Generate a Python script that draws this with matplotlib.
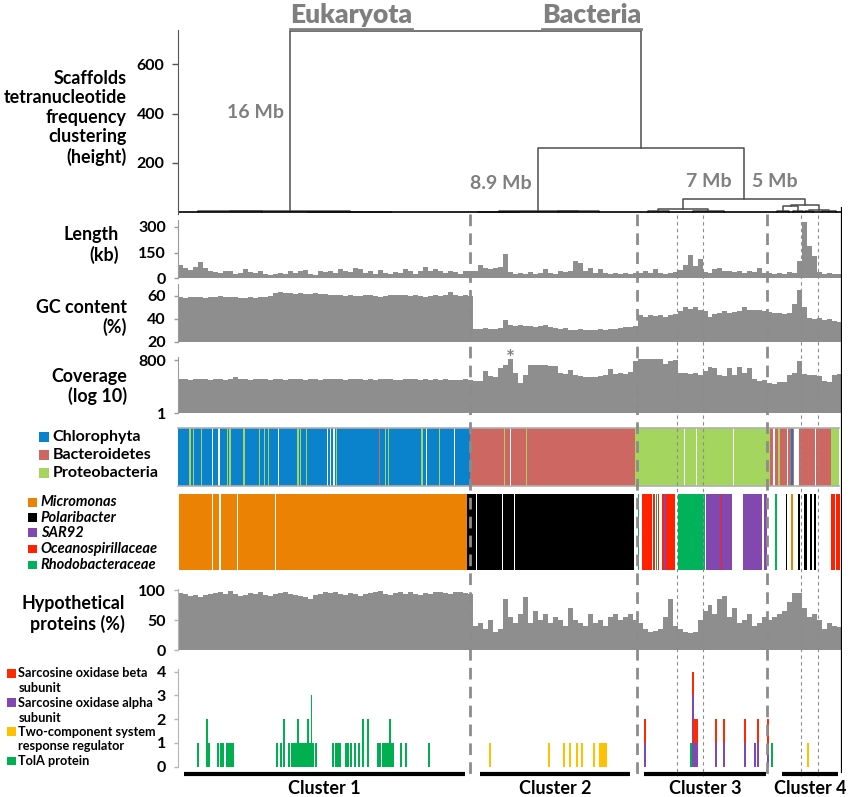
import numpy as np
import matplotlib.pyplot as plt
from matplotlib.patches import Rectangle
import matplotlib.transforms as mtransforms

plt.rcParams['font.family'] = ['Lato', 'DejaVu Sans']
plt.rcParams['font.weight'] = 'bold'

W, H = 851, 797
BIN = 5          # scaffold positions per bin
N_POS = 665      # length of the scaffold axis

# per-bin values: cluster 1 | cluster 2 | cluster 3 | cluster 4
length_kb = ([75, 60, 50, 65, 95, 60, 40, 35, 30, 45, 40, 25, 30, 55, 35, 30, 40, 25, 20, 25,
              30, 25, 45, 30, 40, 50, 25, 20, 45, 35, 40, 30, 55, 45, 35, 60, 55, 30, 45, 25,
              50, 30, 25, 35, 30, 55, 40, 25, 45, 65, 40, 55, 45, 30, 40, 35, 25, 45, 40]
             + [40, 75, 60, 55, 60, 65, 140, 35, 25, 30, 25, 35, 25, 30, 55, 30, 25, 40, 35, 45,
                100, 90, 45, 60, 30, 55, 30, 25, 30, 25, 30, 25, 30]
             + [30, 40, 30, 55, 30, 25, 30, 35, 50, 75, 135, 70, 110, 35, 30, 55, 60, 40, 45, 35,
                45, 30, 40, 35, 60, 30]
             + [30, 25, 30, 25, 35, 30, 100, 330, 190, 130, 35, 25, 30, 25, 25])

gc_pct = ([59, 58.5, 59, 59.5, 59, 58.5, 59.5, 59, 60, 59, 59.5, 59, 58, 58.5, 59, 58.5, 59, 59.5, 60,
           63, 63.5, 62.5, 63, 62, 62.5, 61.5, 62, 62.5, 61.5, 62,
           61, 60.5, 61, 60, 60.5, 60, 60, 60.5, 61, 60, 59.5, 60, 60.5, 61, 60.5, 61, 60, 60.5, 60,
           59.5, 60, 60.5, 60, 61, 63.5, 60.5, 60, 60.5, 60]
          + [31.5, 31, 32, 31, 31.5, 32, 39, 35, 34, 34.5, 33.5, 34, 33, 34, 34.5, 33, 32, 31.5, 32,
             30.5, 30, 31.5, 30.5, 30, 30, 31, 30.5, 31.5, 31, 32, 32.5, 33, 34]
          + [43, 42, 43, 42.5, 43, 42, 43.5, 44, 47, 50, 49, 50, 48, 47, 42, 44, 45.5, 47, 45.5, 46,
             46.5, 50, 48, 47.5, 48, 46.5]
          + [46, 45.5, 45, 44, 45, 53, 65, 50, 41, 40, 40.5, 39, 39.5, 38, 37])

coverage = ([75, 70, 68, 70, 72, 70, 69, 71, 70, 68, 72, 95, 74, 70, 69, 70, 71, 70, 68, 70,
             70, 69, 71, 70, 70, 68, 70, 71, 69, 70, 70, 72, 70, 69, 70, 71, 70, 68, 70, 69,
             70, 71, 70, 69, 68, 70, 71, 70, 69, 70, 68, 70, 69, 70, 68, 67, 69, 70, 66]
            + [55, 60, 200, 110, 90, 280, 430, 900, 150, 45, 120, 420, 440, 410, 450, 400, 380, 160,
               140, 220, 130, 110, 90, 100, 95, 105, 120, 260, 140, 150, 140, 180, 700]
            + [900, 950, 920, 900, 910, 500, 700, 800, 160, 150, 140, 150, 130, 200, 350, 300, 120,
               110, 300, 130, 350, 150, 300, 70, 60, 65]
            + [45, 42, 50, 48, 130, 150, 750, 140, 120, 130, 110, 55, 50, 130, 135])

hypo_pct = ([95, 93, 90, 92, 89, 91, 93, 95, 96, 94, 98, 93, 90, 92, 95, 94, 96, 92, 90, 93,
             95, 96, 94, 91, 90, 88, 85, 92, 94, 96, 95, 97, 93, 92, 95, 94, 90, 93, 95, 96,
             98, 94, 92, 95, 97, 93, 96, 94, 91, 95, 93, 96, 97, 95, 94, 96, 97, 95, 93]
            + [40, 45, 35, 50, 30, 35, 85, 55, 45, 60, 88, 45, 65, 50, 60, 45, 55, 50, 40, 70,
               50, 45, 40, 60, 45, 50, 40, 55, 60, 50, 55, 60, 50]
            + [45, 35, 30, 32, 35, 55, 85, 40, 35, 30, 28, 30, 50, 65, 75, 60, 85, 90, 55, 70,
               45, 50, 60, 40, 45, 55]
            + [50, 55, 60, 65, 80, 95, 95, 70, 55, 60, 50, 35, 45, 40, 38])

# gene hits (scaffold position, count)
tola_pos = [19.4, 29.0, 30.7, 40.0, 42.7, 45.0, 48.4, 50.4, 52.4, 54.4,
            98.4, 102.4, 105.4, 111.0, 113.4,
            115.7, 117.2, 118.7, 120.2, 121.7, 123.2, 124.7, 126.2, 127.7, 129.4, 130.7, 132.2, 133.4, 135.0,
            138.4,
            155.0, 157.7, 160.0, 161.7, 167.7, 170.0, 173.4, 176.7, 181.0, 185.0, 190.0, 200.0, 202.4,
            205.0, 206.5, 208.0, 209.5, 211.0, 212.4, 214.0, 215.0,
            222.7, 227.7, 251.0, 513.8, 594.4]
tola_n = ([1, 2, 1, 1, 1, 1, 1, 1, 1, 1] + [1, 1, 2, 1, 1]
          + [1, 1, 1, 2, 1, 1, 1, 1, 1, 2, 1, 1, 3, 1] + [1]
          + [1, 1, 1, 1, 1, 1, 1, 1, 1, 2, 2, 1, 1] + [1, 1, 1, 1, 1, 2, 1, 1] + [1, 1, 1, 1, 1])
tcs_pos = [311.7, 371.0, 386.7, 392.7, 399.4, 404.0, 416.0, 422.7, 424.2, 425.7, 427.2, 428.7, 630.7]
tcs_n = [1] * len(tcs_pos)
sox_pos = [467.0, 515.0, 516.5, 518.0, 519.5, 538.4, 546.7, 567.4, 577.4, 580.7, 591.0]
sox_alpha = [1, 3, 1, 1, 1, 1, 1, 1, 1, 1, 1]
sox_beta = [1, 1, 1, 1, 1, 1, 1, 1, 0, 1, 1]

# taxonomy strips: blocks (start, end, taxon) and thin stripes (position, taxon, width)
phylum_colors = {'Chlorophyta': '#0a82cc', 'Bacteroidetes': '#cc6762',
                 'Proteobacteria': '#a3d55f', 'gap': 'white'}
phylum_blocks = [(0, 291.7, 'Chlorophyta'), (291.7, 457.7, 'Bacteroidetes'),
                 (457.7, 592.4, 'Proteobacteria'), (592.4, 653.4, 'Bacteroidetes'),
                 (616.7, 621.7, 'gap'), (653.4, 661.7, 'Proteobacteria')]
P = 'Proteobacteria'
phylum_lines = [(11.7, P, 1.3), (15.0, P, 1.3), (23.4, P, 1.3), (34.0, 'gap', 1.3), (40.7, 'gap', 1.3),
                (49.4, P, 1.3), (51.7, P, 1.3), (66.0, P, 2.2), (81.0, P, 1.3), (86.0, P, 1.3),
                (90.4, P, 1.3), (100.4, 'gap', 1.3), (120.0, P, 1.3), (122.7, P, 1.3), (128.4, P, 1.3),
                (149.4, 'gap', 1.3), (152.7, 'gap', 1.3), (156.0, 'gap', 1.3), (158.4, P, 1.3),
                (201.7, 'Bacteroidetes', 1.5), (207.4, P, 1.3), (210.7, P, 1.3), (244.0, P, 1.3),
                (248.4, 'gap', 1.3), (261.7, P, 1.3), (276.7, 'gap', 1.3),
                (326.7, P, 1.3), (332.4, 'gap', 1.3), (348.4, P, 1.3),
                (506.7, 'gap', 1.3), (519.0, 'gap', 1.3), (555.7, 'gap', 1.3),
                (596.7, 'gap', 1.5), (601.7, P, 1.5), (610.0, 'gap', 1.5), (615.0, 'Chlorophyta', 1.8),
                (638.4, 'gap', 1.3)]

genus_names = ['Micromonas', 'Polaribacter', 'SAR92', 'Oceanospirillaceae', 'Rhodobacteraceae']
genus_colors = {'Micromonas': '#ec8204', 'Polaribacter': '#000000', 'SAR92': '#8348b0',
                'Oceanospirillaceae': '#ff2200', 'Rhodobacteraceae': '#00b35a', 'gap': 'white'}
genus_blocks = [(1.0, 289.0, 'Micromonas'), (289.0, 456.7, 'Polaribacter'),
                (460.5, 461.8, 'Rhodobacteraceae'), (464.0, 474.0, 'Oceanospirillaceae'),
                (475.3, 477.0, 'Oceanospirillaceae'), (478.0, 479.2, 'Rhodobacteraceae'),
                (480.2, 481.6, 'Oceanospirillaceae'), (484.5, 497.7, 'Oceanospirillaceae'),
                (500.0, 527.7, 'Rhodobacteraceae'), (528.4, 555.0, 'SAR92'),
                (565.7, 590.0, 'SAR92'), (654.0, 662.4, 'Oceanospirillaceae')]
genus_lines = [(34.0, 'gap', 1.3), (41.7, 'gap', 1.3), (59.4, 'gap', 1.3), (97.4, 'gap', 1.3),
               (299.0, 'gap', 1.3), (324.4, 'gap', 1.3), (336.7, 'gap', 1.3),
               (487.4, 'SAR92', 1.3), (544.0, 'Oceanospirillaceae', 1.3), (585.5, 'gap', 1.3),
               (598.4, 'Rhodobacteraceae', 1.6), (609.0, 'Polaribacter', 1.6),
               (614.4, 'Micromonas', 1.6), (621.7, 'Polaribacter', 1.8), (627.7, 'Polaribacter', 1.8),
               (629.4, 'Polaribacter', 1.4), (633.4, 'Polaribacter', 1.8), (637.7, 'Polaribacter', 1.8),
               (658.4, 'gap', 1.0)]

# clusters
cluster_edges = [291.7, 459.4, 590.0]
subcluster_edges = [499.4, 525.7, 624.0, 640.7]
cluster_names = ['Cluster 1', 'Cluster 2', 'Cluster 3', 'Cluster 4']
cluster_spans = [(5.7, 286.7), (301.7, 452.4), (466.7, 588.4), (604.4, 661.0)]

# tetranucleotide clustering tree: (height, left, right); leaves are positions
tree = (735,
        (6, (3, 20, 83.4), (2, 130, 213.4)),
        (260,
         (6, (2, 300, 341.4), (3, 380, 421.4)),
         (55,
          (14, (5, 470, 491.4), (6, 515, 546.4)),
          (30, (25, (5, 600, 612), (5, 616, 625.4)),
               (10, (6, 628, 636), (4, 645, 659))))))

GRAY = '#8e8e8e'
TXT_GRAY = '#7f7f7f'
X0, X1 = 178.3, 842.3

fig = plt.figure(figsize=(W / 100, H / 100), dpi=100)


def add_px_axes(x0, y0, x1, y1):
    return fig.add_axes([x0 / W, 1 - y1 / H, (x1 - x0) / W, (y1 - y0) / H])


def style_panel(ax, spine_color='#9a9a9a'):
    for s in ('top', 'right', 'bottom'):
        ax.spines[s].set_visible(False)
    ax.spines['left'].set_color(spine_color)
    ax.tick_params(axis='y', length=3, width=1, color=spine_color, pad=6, labelsize=11.5)
    ax.set_xticks([])
    ax.set_xlim(0, N_POS)
    ax.patch.set_alpha(0)


edges = np.arange(len(length_kb)) * BIN

# dendrogram
ax_d = add_px_axes(X0, 30, X1, 214)
style_panel(ax_d, '#555555')
ax_d.tick_params(axis='y', length=4)
ax_d.set_ylim(-8, 740)
ax_d.set_yticks([200, 400, 600])


def draw_node(ax, node):
    if not isinstance(node, tuple):
        return node, 0.0
    h, left, right = node
    xl, hl = draw_node(ax, left)
    xr, hr = draw_node(ax, right)
    ax.plot([xl, xl, xr, xr], [hl, h, h, hr], color='#4d4d4d', lw=1.1)
    return (xl + xr) / 2, h


draw_node(ax_d, tree)
ax_d.plot([1, N_POS - 1], [0, 0], color='black', lw=1.2)
ax_d.text(105.7, 403, '16 Mb', color=TXT_GRAY, fontsize=14, ha='right', va='center')
ax_d.text(323.2, 118, '8.9 Mb', color=TXT_GRAY, fontsize=14, ha='center', va='center')
ax_d.text(531.7, 126, '7 Mb', color=TXT_GRAY, fontsize=14, ha='center', va='center')
ax_d.text(597.7, 126, '5 Mb', color=TXT_GRAY, fontsize=14, ha='center', va='center')

# length
ax_len = add_px_axes(X0, 220, X1, 278.3)
style_panel(ax_len)
ax_len.bar(edges, length_kb, width=BIN, align='edge', color=GRAY, lw=0)
ax_len.set_ylim(0, 340)
ax_len.set_yticks([0, 150, 300])

# GC content
ax_gc = add_px_axes(X0, 284, X1, 341.7)
style_panel(ax_gc)
ax_gc.bar(edges, np.array(gc_pct) - 20, bottom=20, width=BIN, align='edge', color=GRAY, lw=0)
ax_gc.set_ylim(20, 70.5)
ax_gc.set_yticks([20, 40, 60])

# coverage
ax_cov = add_px_axes(X0, 356.8, X1, 413.3)
style_panel(ax_cov)
ax_cov.set_yscale('log')
ax_cov.bar(edges, np.array(coverage) - 1, bottom=1, width=BIN, align='edge', color=GRAY, lw=0)
ax_cov.set_ylim(1, 1200)
ax_cov.set_yticks([1, 800])
ax_cov.set_yticklabels(['1', '800'])
ax_cov.minorticks_off()
star_i = int(np.argmax(coverage[:92]))
ax_cov.annotate('*', (edges[star_i] + BIN / 2, coverage[star_i]), xytext=(0, -4),
                textcoords='offset points', ha='center', va='baseline', color=TXT_GRAY,
                fontsize=15, annotation_clip=False)


def draw_strip(ax, blocks, lines, colors):
    for a, b, name in blocks:
        ax.axvspan(a, b, color=colors[name], lw=0)
    for x, name, w in lines:
        ax.axvspan(x - w / 2, x + w / 2, color=colors[name], lw=0)
    ax.set_xlim(0, N_POS)
    ax.set_ylim(0, 1)
    ax.set_xticks([])
    ax.set_yticks([])


ax_phy = add_px_axes(X0, 427.7, X1, 485.7)
draw_strip(ax_phy, phylum_blocks, phylum_lines, phylum_colors)
for s in ax_phy.spines.values():
    s.set_visible(False)
ax_phy.plot([0, 661.7], [1, 1], color='#b0b0b0', lw=1.2, clip_on=False)
ax_phy.plot([0, 661.7], [0, 0], color='#b0b0b0', lw=1.2, clip_on=False)

ax_gen = add_px_axes(X0, 494.3, X1, 570)
draw_strip(ax_gen, genus_blocks, genus_lines, genus_colors)
for s in ax_gen.spines.values():
    s.set_visible(False)

# hypothetical proteins
ax_hyp = add_px_axes(X0, 588.8, X1, 650)
style_panel(ax_hyp, '#b5b5b5')
ax_hyp.bar(edges, hypo_pct, width=BIN, align='edge', color=GRAY, lw=0)
ax_hyp.set_ylim(0, 102)
ax_hyp.set_yticks([0, 50, 100])

# gene counts
ax_g = add_px_axes(X0, 669.3, X1, 766.7)
style_panel(ax_g, '#b5b5b5')
gene_colors = {'beta': '#ff2a00', 'alpha': '#8048b0', 'tcs': '#ffc000', 'tola': '#00b050'}
ax_g.bar(tola_pos, tola_n, width=2.0, color=gene_colors['tola'], lw=0)
ax_g.bar(tcs_pos, tcs_n, width=2.0, color=gene_colors['tcs'], lw=0)
ax_g.bar(sox_pos, sox_alpha, width=2.0, color=gene_colors['alpha'], lw=0)
ax_g.bar(sox_pos, sox_beta, bottom=sox_alpha, width=2.0, color=gene_colors['beta'], lw=0)
ax_g.set_ylim(0, 4.1)
ax_g.set_yticks([0, 1, 2, 3, 4])

# cluster boundaries and cluster bars
over = fig.add_axes([X0 / W, 0, (X1 - X0) / W, 1])
over.set_xlim(0, N_POS)
over.set_ylim(H, 0)
over.axis('off')
for x in cluster_edges:
    over.plot([x, x], [214, 779], color='#8c8c8c', lw=2.0, ls=(0, (4.2, 2.6)))
for x in subcluster_edges:
    over.plot([x, x], [215, 776], color='#8c8c8c', lw=0.8, ls=(0, (3, 3)))
over.plot([N_POS, N_POS], [208, 772], color='black', lw=1.6)
for (a, b), name in zip(cluster_spans, cluster_names):
    over.plot([a, b], [773.5, 773.5], color='black', lw=3, solid_capstyle='butt')
    over.text((a + b) / 2, 789, name, ha='center', va='center', fontsize=13)

# side labels and legends (figure pixel coordinates)
ann = fig.add_axes([0, 0, 1, 1])
ann.set_xlim(0, W)
ann.set_ylim(H, 0)
ann.axis('off')

side_labels = [('Scaffolds\ntetranucleotide\nfrequency\nclustering\n(height)', 127, 118),
               ('Length\n(kb)', 119, 245), ('GC content\n(%)', 127, 317.5),
               ('Coverage\n(log 10)', 127, 386.5), ('Hypothetical\nproteins (%)', 125, 614)]
for txt, x, y in side_labels:
    ann.text(x, y, txt, ha='right', va='center', fontsize=12.9, linespacing=1.17)

for name, y in zip(['Chlorophyta', 'Bacteroidetes', 'Proteobacteria'], [436.5, 455, 473.3]):
    ann.add_patch(Rectangle((39.3, y - 5), 10, 10, color=phylum_colors[name], lw=0))
    ann.text(52.7, y, name, ha='left', va='center', fontsize=11.5)

for name, y in zip(genus_names, [502.3, 517.7, 532.7, 549, 565]):
    ann.add_patch(Rectangle((28.3, y - 4.3), 8.5, 8.5, color=genus_colors[name], lw=0))
    ann.text(40.7, y, name, ha='left', va='center', fontsize=10.5, style='italic')

gene_legend = [('Sarcosine oxidase beta\nsubunit', 'beta', 673.3),
               ('Sarcosine oxidase alpha\nsubunit', 'alpha', 702.7),
               ('Two-component system\nresponse regulator', 'tcs', 731.7),
               ('TolA protein', 'tola', 761)]
for txt, key, y in gene_legend:
    ann.add_patch(Rectangle((7.3, y - 4.3), 8.7, 8.7, color=gene_colors[key], lw=0))
    for j, line in enumerate(txt.split('\n')):
        ann.text(18.3, y + 14.8 * j, line, ha='left', va='center', fontsize=9.2)

# domain titles on the top branches, underlined
tr = mtransforms.blended_transform_factory(ax_d.transData, ann.transData)
euk = ann.text(111.7, 23, 'Eukaryota', transform=tr, ha='left', va='baseline',
               color=TXT_GRAY, fontsize=19, fontweight='heavy')
bac = ann.text(463.7, 23, 'Bacteria', transform=tr, ha='right', va='baseline',
               color=TXT_GRAY, fontsize=19, fontweight='heavy')
fig.canvas.draw()
renderer = fig.canvas.get_renderer()
inv = ann.transData.inverted()
for t in (euk, bac):
    bb = t.get_window_extent(renderer)
    (xa, _), (xb, _) = inv.transform([(bb.x0, 0), (bb.x1, 0)])
    ann.plot([xa, xb], [29, 29], color=TXT_GRAY, lw=2)

fig.savefig('out.png', dpi=100)
